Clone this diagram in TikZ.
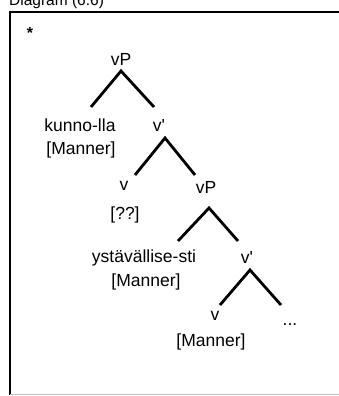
\documentclass[tikz,border=0pt]{standalone}
\usepackage{fontspec}
\setmainfont{Liberation Sans}
\usetikzlibrary{positioning}

\tikzset{
lbl/.style={inner sep=0pt, font=\fontsize{17.5}{20}\selectfont},
branch/.style={line width=2.8, line cap=butt, line join=miter},
}

\begin{document}
\begin{tikzpicture}[x=1pt,y=-1pt]
\useasboundingbox (0,0) rectangle (339,396);
\clip (0,0) rectangle (339,396);

% caption and frame
\node[anchor=base west, inner sep=0pt, font=\fontsize{15.5}{18}\selectfont] (cap) at (9,6) {Diagram (6.6)};
\draw[line width=1.6] (10,395) -- (10,12) -- (345,12);
\draw[line width=0.4, black!25] (10,394) -- (345,394);
\node[lbl, font=\fontsize{16}{18}\bfseries] (star) at (30,33) {*};

% labels
\node[lbl] (vpA) at (121,59) {vP};
\node[lbl] (kunno) at (80,125) {kunno-lla};
\node[lbl] (vbA) at (159,125) {v\textquotesingle};
\node[lbl] (mA) at (81,150) {[Manner]};
\node[lbl] (vA) at (124,186) {v};
\node[lbl] (vpB) at (206,187) {vP};
\node[lbl] (qq) at (125,215) {[??]};
\node[lbl] (yst) at (144,258) {ystävällise-sti};
\node[lbl] (vbB) at (247,257) {v\textquotesingle};
\node[lbl] (mB) at (146,282) {[Manner]};
\node[lbl] (vB) at (215,316) {v};
\node[lbl] (dots) at (290,325) {...};
\node[lbl] (mC) at (211,342) {[Manner]};

% branch points
\coordinate (a1) at (121,71);  \coordinate (l1) at (91,107);  \coordinate (r1) at (154,107);
\coordinate (a2) at (165,138); \coordinate (l2) at (135,175); \coordinate (r2) at (195,175);
\coordinate (a3) at (209,208); \coordinate (l3) at (178,241); \coordinate (r3) at (238,241);
\coordinate (a4) at (250,270); \coordinate (l4) at (220,305); \coordinate (r4) at (281,305);

\draw[branch] (l1) -- (a1) -- (r1);
\draw[branch] (l2) -- (a2) -- (r2);
\draw[branch] (l3) -- (a3) -- (r3);
\draw[branch] (l4) -- (a4) -- (r4);

\end{tikzpicture}
\end{document}
